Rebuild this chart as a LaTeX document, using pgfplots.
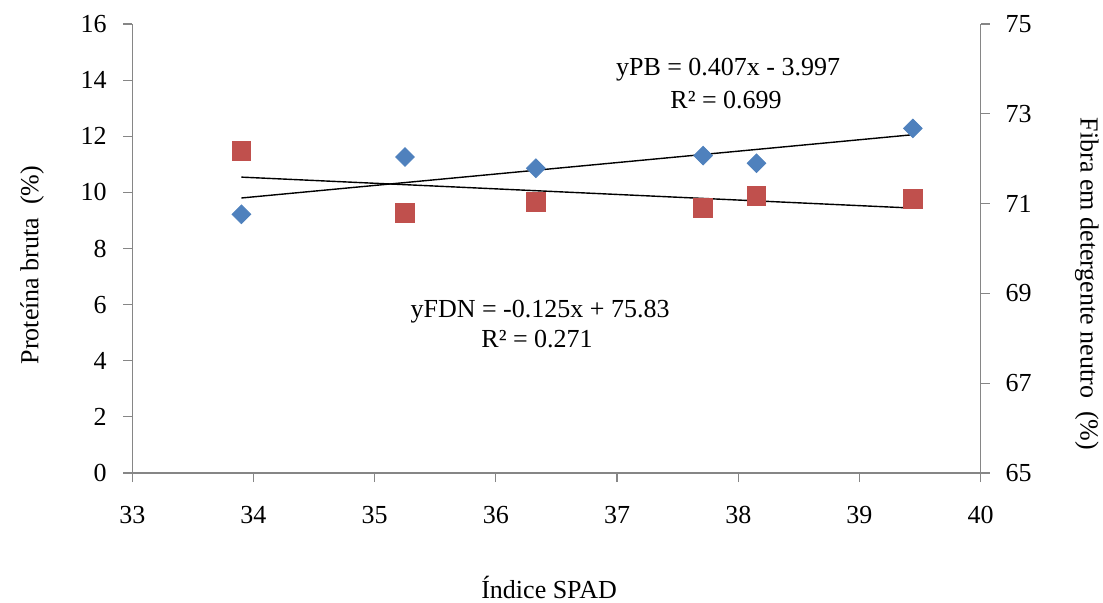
\documentclass[border=0pt]{standalone}
\usepackage{pgfplots}
\pgfplotsset{compat=1.18}
\usepackage{fontspec}
\setmainfont{Liberation Serif}
\definecolor{pbblue}{HTML}{4F81BD}
\definecolor{fdnred}{HTML}{C0504D}
\definecolor{axgray}{HTML}{868686}
\pgfplotstableread{
x y
33.90 9.22
35.25 11.26
36.33 10.86
37.71 11.31
38.15 11.04
39.44 12.28
}\pbdata
\pgfplotstableread{
x y
33.90 72.17
35.25 70.79
36.33 71.04
37.71 70.91
38.15 71.17
39.44 71.11
}\fdndata
\begin{document}
\fontsize{13}{15.6}\selectfont
\begin{tikzpicture}
\path[use as bounding box] (-66.15pt,-64.5pt) rectangle (485.35pt,236.5pt);
\pgfplotsset{
  every axis/.append style={
    scale only axis, width=424.2pt, height=224.5pt,
    at={(0pt,0pt)}, anchor=south west,
    xmin=33, xmax=40,
    tick align=outside, major tick length=4.5pt,
    every tick/.style={axgray, line width=0.6pt},
    axis line style={axgray, line width=0.6pt},
    tick label style={font=\fontsize{13}{15.6}\selectfont, inner sep=0pt},
    /pgf/number format/assume math mode=true,
    clip=false,
  },
}
\begin{axis}[
  axis x line*=bottom, axis y line*=left,
  ymin=0, ymax=16, ytick={0,2,...,16},
  xtick={33,34,...,40},
  yticklabel style={anchor=east, xshift=-8.1pt},
  xticklabel style={anchor=center, yshift=-16.5pt},
]
\addplot[only marks, mark=square*, mark size=3.3pt, mark options={rotate=45, fill=pbblue, draw=pbblue}] table {\pbdata};
\addplot[black, line width=0.7pt] coordinates {(33.90,9.800) (39.44,12.055)};
\end{axis}
\begin{axis}[
  axis x line=none, axis y line*=right,
  ymin=65, ymax=75, ytick={65,67,...,75},
  yticklabel style={anchor=west, xshift=7.8pt},
]
\addplot[only marks, mark=square*, mark size=4.65pt, mark options={fill=fdnred, draw=fdnred}] table {\fdndata};
\addplot[black, line width=0.7pt] coordinates {(33.90,71.59) (39.44,70.90)};
\end{axis}
\node[anchor=base] at (297.9pt,199pt) {yPB = 0.407x - 3.997};
\node[anchor=base] at (296.9pt,182.5pt) {R² = 0.699};
\node[anchor=base] at (203.9pt,78pt) {yFDN = -0.125x + 75.83};
\node[anchor=base] at (202.4pt,63pt) {R² = 0.271};
\node[anchor=base] at (208.4pt,-62.5pt) {Índice SPAD};
\node[rotate=90] at (-50.15pt,104pt) {Proteína bruta\ \ (\%)};
\node[rotate=-90] at (477.3pt,94.5pt) {Fibra em detergente neutro\ \ (\%)};
\end{tikzpicture}
\end{document}
